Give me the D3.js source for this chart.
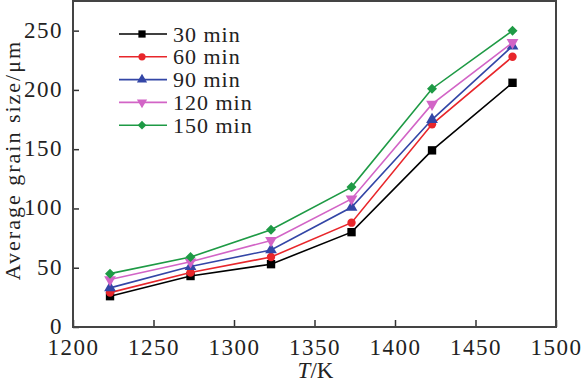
<!DOCTYPE html>
<html>
<head>
<meta charset="utf-8">
<script src="https://cdn.jsdelivr.net/npm/d3@7"></script>
<style>
  body { margin: 0; background: #fff; }
</style>
</head>
<body>
<div id="chart"></div>
<script>
// temperatures (K) and grain sizes (um) per holding time
var temps = [1223, 1273, 1323, 1373, 1423, 1473];
var seriesNames = ["30 min", "60 min", "90 min", "120 min", "150 min"];
var s30  = [26, 43, 53, 80, 149, 206];
var s60  = [29, 46, 59, 88, 171, 228];
var s90  = [33, 51, 65, 101, 175, 237];
var s120 = [40, 55, 73, 108, 188, 240];
var s150 = [45, 59, 82, 118, 201, 250];
var xTicks = [1200, 1250, 1300, 1350, 1400, 1450, 1500];
var yTicks = [0, 50, 100, 150, 200, 250];

var FONT = "'Liberation Serif', 'Times New Roman', Times, serif";
var colors = ["#000000", "#e8262b", "#3346a6", "#d264c6", "#1e9a45"];
var symbols = [d3.symbolSquare, d3.symbolCircle, d3.symbolTriangle, d3.symbolTriangle, d3.symbolSquare];
var symRot = [0, 0, 0, 180, 45];
var symSize = [70, 55, 60, 60, 50];

var W = 584, H = 383;
var m = { left: 73, right: 28, top: 1, bottom: 56 };

var svg = d3.select("#chart").append("svg")
    .attr("width", W)
    .attr("height", H);

var x = d3.scaleLinear().domain([1200, 1500]).range([m.left, W - m.right]);
var y = d3.scaleLinear().domain([0, 275]).range([H - m.bottom, m.top]);

// x axis, ticks point inward
var gx = svg.append("g")
    .attr("transform", "translate(0," + (H - m.bottom) + ")")
    .call(d3.axisBottom(x).tickValues(xTicks).tickFormat(d3.format("d"))
        .tickSizeInner(-7).tickSizeOuter(0).tickPadding(12));

var gy = svg.append("g")
    .attr("transform", "translate(" + m.left + ",0)")
    .call(d3.axisLeft(y).tickValues(yTicks).tickFormat(d3.format("d"))
        .tickSizeInner(-6).tickSizeOuter(0).tickPadding(10));

svg.selectAll("g").attr("font-family", null);
svg.selectAll(".tick text")
    .style("font-family", FONT)
    .style("font-size", "23px")
    .attr("letter-spacing", "1.5px")
    .attr("fill", "#222");
gy.selectAll("text").attr("dy", "0.28em");

svg.selectAll(".domain").remove();
svg.selectAll(".tick line").attr("stroke", "#333").attr("stroke-width", 1.5);

// plot frame
svg.append("rect")
    .attr("x", m.left)
    .attr("y", m.top)
    .attr("width", W - m.left - m.right)
    .attr("height", H - m.top - m.bottom)
    .attr("fill", "none")
    .attr("stroke", "#444")
    .attr("stroke-width", 2);

// axis titles
var xt = svg.append("text")
    .attr("x", x(1350) + 1)
    .attr("y", 378)
    .attr("text-anchor", "middle")
    .attr("fill", "#222")
    .style("font-family", FONT)
    .style("font-size", "23px");
xt.append("tspan").style("font-style", "italic").text("T");
xt.append("tspan").text("/K");

svg.append("text")
    .attr("transform", "translate(20," + 160 + ") rotate(-90)")
    .attr("text-anchor", "middle")
    .attr("letter-spacing", "2px")
    .attr("fill", "#222")
    .style("font-family", FONT)
    .style("font-size", "22px")
    .text("Average grain size/\u03bcm");

var allSeries = [s30, s60, s90, s120, s150];
var line = d3.line()
    .x(function(d, i) { return x(temps[i]); })
    .y(function(d) { return y(d); });

allSeries.forEach(function(vals, k) {
    svg.append("path")
        .datum(vals)
        .attr("d", line)
        .attr("fill", "none")
        .attr("stroke", colors[k])
        .attr("stroke-width", 1.6);
    svg.selectAll(".pt" + k)
        .data(vals)
        .enter()
        .append("path")
        .attr("d", d3.symbol().type(symbols[k]).size(symSize[k]))
        .attr("transform", function(d, i) {
            return "translate(" + x(temps[i]) + "," + y(d) + ") rotate(" + symRot[k] + ")";
        })
        .attr("fill", colors[k]);
});

// legend
var leg = svg.append("g");
seriesNames.forEach(function(name, k) {
    var ly = 34 + k * 22.8;
    leg.append("line")
        .attr("x1", 119).attr("x2", 167)
        .attr("y1", ly).attr("y2", ly)
        .attr("stroke", colors[k])
        .attr("stroke-width", 1.6);
    leg.append("path")
        .attr("d", d3.symbol().type(symbols[k]).size(symSize[k] * 0.75))
        .attr("transform", "translate(142," + ly + ") rotate(" + symRot[k] + ")")
        .attr("fill", colors[k]);
    leg.append("text")
        .attr("x", 173)
        .attr("y", ly + 7.5)
        .attr("letter-spacing", "1px")
        .attr("fill", "#222")
        .style("font-family", FONT)
        .style("font-size", "22px")
        .text(name);
});
</script>
</body>
</html>
